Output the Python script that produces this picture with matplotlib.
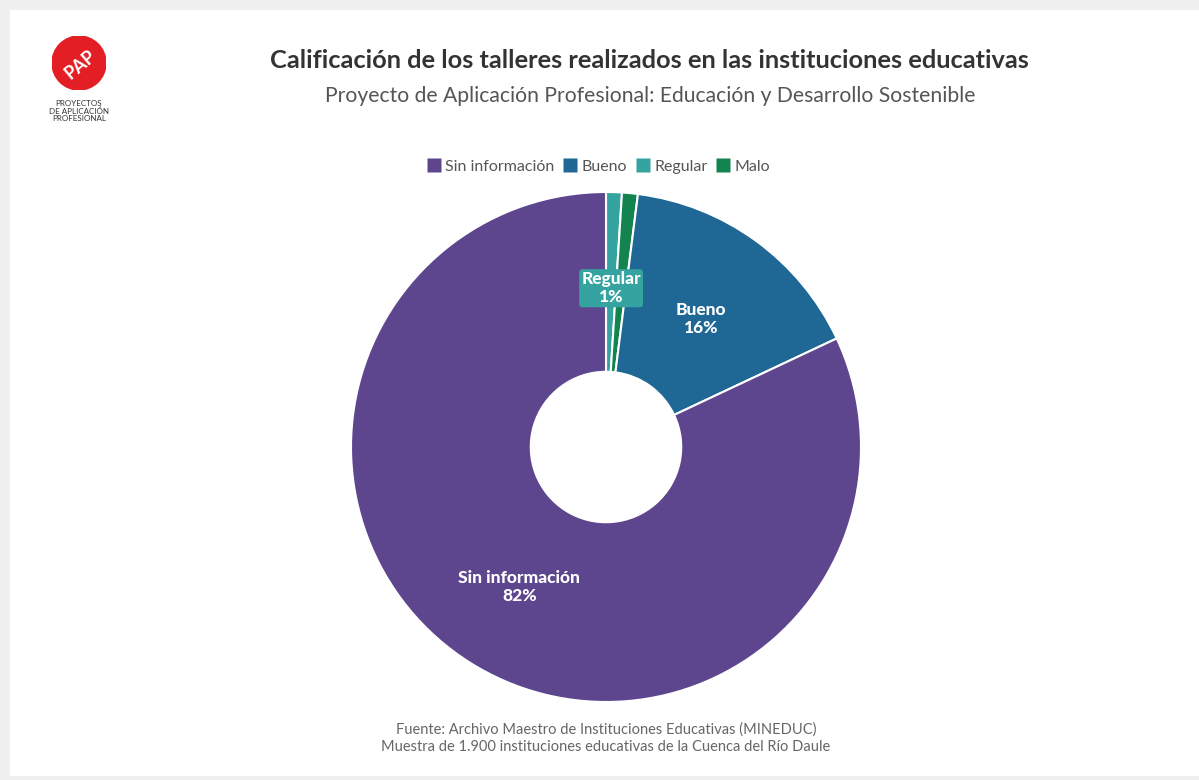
import numpy as np
import matplotlib.pyplot as plt
from matplotlib.patches import Rectangle, Circle
from matplotlib.lines import Line2D

# data
categories = ["Regular", "Malo", "Bueno", "Sin información"]
counts = [19, 19, 304, 1558]
colors = ["#35a3a0", "#13834f", "#1f6794", "#5e468f"]
legend_order = ["Sin información", "Bueno", "Regular", "Malo"]
labeled = ["Regular", "Bueno", "Sin información"]

title = "Calificación de los talleres realizados en las instituciones educativas"
subtitle = "Proyecto de Aplicación Profesional: Educación y Desarrollo Sostenible"
source = ("Fuente: Archivo Maestro de Instituciones Educativas (MINEDUC)\n"
          "Muestra de 1.900 instituciones educativas de la Cuenca del Río Daule")

plt.rcParams['font.family'] = ['Lato', 'DejaVu Sans']

W, H = 1199, 780
fig = plt.figure(figsize=(W / 100, H / 100), dpi=100)
fig.patch.set_facecolor("#f0f0f0")

# white card
fig.add_artist(Rectangle((10 / W, 4 / H), 1, 1 - 14 / H, transform=fig.transFigure,
                         facecolor="white", edgecolor="none", zorder=0))

# logo
lx = 79 / W
logo_ax = fig.add_axes([52 / W, 1 - 90 / H, 54 / W, 54 / H])
logo_ax.set_xlim(-1, 1)
logo_ax.set_ylim(-1, 1)
logo_ax.set_aspect("equal")
logo_ax.axis("off")
logo_ax.add_patch(Circle((0, 0), 1, color="#e31e24"))
logo_ax.text(0.05, -0.05, "PAP", color="white", fontsize=13, fontweight="bold",
             rotation=40, ha="center", va="center")
fig.text(lx, 1 - 111 / H, "PROYECTOS\nDE APLICACIÓN\nPROFESIONAL", ha="center", va="center",
         fontsize=5.8, color="#333333", linespacing=1.1)

# titles
fig.text(649 / W, 1 - 60 / H, title, ha="center", va="center", fontsize=18.3,
         fontweight="bold", color="#333333")
fig.text(650 / W, 1 - 96 / H, subtitle, ha="center", va="center", fontsize=15.2,
         color="#555555")
fig.text(606 / W, 1 - 738 / H, source, ha="center", va="center", fontsize=10.5,
         color="#666666", linespacing=1.35)

# pie
R = 255
cx, cy = 606, 447
ax = fig.add_axes([(cx - R) / W, 1 - (cy + R) / H, 2 * R / W, 2 * R / H])
wedges, _ = ax.pie(counts, colors=colors, startangle=90, counterclock=False,
                   radius=1, wedgeprops=dict(width=0.705, edgecolor="white", linewidth=1.5))
ax.set_xlim(-1, 1)
ax.set_ylim(-1, 1)
ax.set_aspect("equal")

total = sum(counts)
cum = 0
for cat, val, col in zip(categories, counts, colors):
    mid = (cum + val / 2) / total
    cum += val
    if cat not in labeled:
        continue
    ang = np.deg2rad(90 - 360 * mid)
    x, y = 0.635 * np.cos(ang), 0.635 * np.sin(ang) - 0.012
    txt = f"{cat}\n{round(100 * val / total)}%"
    box = None
    if cat == "Regular":
        box = dict(boxstyle="round,pad=0.12,rounding_size=0.2", facecolor=col, edgecolor="none")
    ax.text(x, y, txt, ha="center", va="center", color="white", fontsize=12.5,
            fontweight="black", linespacing=1.15, bbox=box)

# legend
handles = [Line2D([], [], marker="s", linestyle="none", markersize=10,
                  markerfacecolor=colors[categories.index(c)], markeredgecolor="none")
           for c in legend_order]
fig.legend(handles, legend_order, loc="center", bbox_to_anchor=(598 / W, 1 - 167 / H),
           ncol=4, frameon=False, fontsize=11.5, handletextpad=0.2, columnspacing=0.5,
           handlelength=1.0, labelcolor="#555555")

fig.savefig("out.png", dpi=100)
